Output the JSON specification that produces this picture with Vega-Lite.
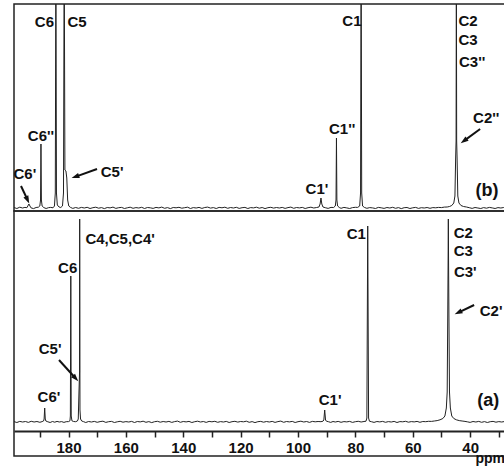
{
  "$schema": "https://vega.github.io/schema/vega-lite/v6.json",
  "padding": {"left": 12, "top": 3, "right": 0, "bottom": 0},
  "spacing": 0,
  "bounds": "flush",
  "config": {
    "view": {"stroke": "#222", "strokeWidth": 1.5},
    "text": {"font": "Liberation Sans", "fontWeight": "bold", "fontSize": 15, "color": "#111", "baseline": "middle", "align": "center"}
  },
  "datasets": {
    "specB": [
      {"p":199,"i":0.5},{"p":198,"i":-0.5},{"p":197,"i":0.8},{"p":196,"i":0},{"p":195.2,"i":0.6},{"p":194.5,"i":0.3},{"p":193.8,"i":4},{"p":193.1,"i":0.2},{"p":192.2,"i":-0.6},{"p":191.3,"i":0.5},{"p":190.5,"i":0.8},{"p":190.0,"i":2},{"p":189.75,"i":8},{"p":189.6,"i":64},{"p":189.45,"i":8},{"p":189.2,"i":2},{"p":188.6,"i":0.4},{"p":187.8,"i":-0.5},{"p":187,"i":0.3},{"p":186.2,"i":0.6},{"p":185.4,"i":0.2},{"p":184.9,"i":2},{"p":184.6,"i":15},{"p":184.4,"i":260},{"p":184.2,"i":15},{"p":183.9,"i":3},{"p":183.3,"i":1},{"p":182.7,"i":0.5},{"p":182.1,"i":2},{"p":181.75,"i":15},{"p":181.5,"i":260},{"p":181.25,"i":38},{"p":180.9,"i":37},{"p":180.6,"i":30},{"p":180.3,"i":8},{"p":179.9,"i":2},{"p":179.3,"i":0.6},{"p":178.5,"i":-0.4},{"p":177.5,"i":0.5},{"p":176.5,"i":-0.3},{"p":175.5,"i":0.6},{"p":174.5,"i":0},{"p":173.5,"i":0.7},{"p":172.5,"i":-0.5},{"p":171.5,"i":0.3},{"p":170.5,"i":0.8},{"p":169.5,"i":-0.2},{"p":168.5,"i":0.4},{"p":167.5,"i":-0.6},{"p":166.5,"i":0.5},{"p":165.5,"i":0.1},{"p":164.5,"i":0.9},{"p":163.5,"i":-0.4},{"p":162.5,"i":0.3},{"p":161.5,"i":0.6},{"p":160.5,"i":-0.5},{"p":159.5,"i":0.2},{"p":158.5,"i":0.8},{"p":157.5,"i":-0.3},{"p":156.5,"i":0.4},{"p":155.5,"i":0},{"p":154.5,"i":0.7},{"p":153.5,"i":-0.5},{"p":152.5,"i":0.5},{"p":151.5,"i":0.2},{"p":150.5,"i":-0.4},{"p":149.5,"i":0.6},{"p":148.5,"i":0.1},{"p":147.5,"i":0.9},{"p":146.5,"i":-0.3},{"p":145.5,"i":0.4},{"p":144.5,"i":-0.6},{"p":143.5,"i":0.5},{"p":142.5,"i":0.2},{"p":141.5,"i":0.7},{"p":140.5,"i":-0.2},{"p":139.5,"i":0.3},{"p":138.5,"i":0.8},{"p":137.5,"i":-0.5},{"p":136.5,"i":0.4},{"p":135.5,"i":0},{"p":134.5,"i":0.6},{"p":133.5,"i":-0.4},{"p":132.5,"i":0.5},{"p":131.5,"i":0.9},{"p":130.5,"i":-0.1},{"p":129.5,"i":0.4},{"p":128.5,"i":-0.5},{"p":127.5,"i":0.6},{"p":126.5,"i":0.2},{"p":125.5,"i":0.8},{"p":124.5,"i":-0.3},{"p":123.5,"i":0.5},{"p":122.5,"i":0},{"p":121.5,"i":0.7},{"p":120.5,"i":-0.4},{"p":119.5,"i":0.3},{"p":118.5,"i":0.6},{"p":117.5,"i":-0.5},{"p":116.5,"i":0.4},{"p":115.5,"i":0.1},{"p":114.5,"i":0.8},{"p":113.5,"i":-0.2},{"p":112.5,"i":0.5},{"p":111.5,"i":-0.6},{"p":110.5,"i":0.3},{"p":109.5,"i":0.7},{"p":108.5,"i":-0.1},{"p":107.5,"i":0.5},{"p":106.5,"i":0},{"p":105.5,"i":0.6},{"p":104.5,"i":-0.4},{"p":103.5,"i":0.4},{"p":102.5,"i":0.9},{"p":101.5,"i":-0.3},{"p":100.5,"i":0.5},{"p":99.5,"i":0.1},{"p":98.5,"i":0.6},{"p":97.5,"i":-0.5},{"p":96.5,"i":0.3},{"p":95.5,"i":0.8},{"p":94.5,"i":0},{"p":93.5,"i":0.5},{"p":92.7,"i":1},{"p":92.3,"i":4},{"p":92.0,"i":10},{"p":91.7,"i":4},{"p":91.3,"i":1},{"p":90.5,"i":0.3},{"p":89.5,"i":-0.4},{"p":88.5,"i":0.6},{"p":87.6,"i":0.5},{"p":87.0,"i":2},{"p":86.75,"i":8},{"p":86.6,"i":70},{"p":86.45,"i":8},{"p":86.2,"i":2},{"p":85.6,"i":0.5},{"p":85,"i":-0.3},{"p":84,"i":0.6},{"p":83,"i":0.1},{"p":82,"i":-0.5},{"p":81,"i":0.4},{"p":80,"i":0.7},{"p":79.2,"i":0.6},{"p":78.5,"i":2},{"p":78.2,"i":15},{"p":78.0,"i":260},{"p":77.8,"i":15},{"p":77.5,"i":2},{"p":76.8,"i":0.5},{"p":76,"i":-0.3},{"p":75,"i":0.4},{"p":74,"i":0.1},{"p":73,"i":-0.5},{"p":72,"i":0.6},{"p":71,"i":0.2},{"p":70,"i":-0.4},{"p":69,"i":0.5},{"p":68,"i":0},{"p":67,"i":0.7},{"p":66,"i":-0.3},{"p":65,"i":0.4},{"p":64,"i":-0.6},{"p":63,"i":0.3},{"p":62,"i":0.5},{"p":61,"i":-0.5},{"p":60,"i":0.2},{"p":59,"i":0.6},{"p":58,"i":-0.4},{"p":57,"i":0.3},{"p":56,"i":0},{"p":55,"i":0.5},{"p":54,"i":-0.3},{"p":53,"i":0.4},{"p":52,"i":0.2},{"p":51,"i":0.6},{"p":50,"i":0.4},{"p":49,"i":0.9},{"p":48,"i":1},{"p":47.2,"i":1.5},{"p":46.4,"i":2.5},{"p":45.7,"i":5},{"p":45.3,"i":12},{"p":45.05,"i":50},{"p":44.9,"i":67},{"p":44.8,"i":260},{"p":44.7,"i":67},{"p":44.55,"i":50},{"p":44.3,"i":12},{"p":43.9,"i":5},{"p":43.2,"i":2.5},{"p":42.3,"i":1.5},{"p":41.3,"i":1},{"p":40.3,"i":0.3},{"p":39.3,"i":-0.4},{"p":38.3,"i":0.5},{"p":37.3,"i":0},{"p":36.3,"i":-0.5},{"p":35.3,"i":0.4},{"p":34.3,"i":-0.2},{"p":33.3,"i":0.6},{"p":32.3,"i":0.1},{"p":31.3,"i":-0.5},{"p":30.3,"i":0.4},{"p":29.3,"i":0},{"p":28.3,"i":0.5},{"p":27.5,"i":0.2}
    ],
    "specA": [
      {"p":199,"i":0.4},{"p":198,"i":-0.5},{"p":197,"i":0.6},{"p":196,"i":0},{"p":195,"i":0.5},{"p":194,"i":-0.4},{"p":193,"i":0.7},{"p":192,"i":0},{"p":191,"i":0.5},{"p":190,"i":-0.3},{"p":189.2,"i":0.4},{"p":188.7,"i":1},{"p":188.5,"i":3},{"p":188.3,"i":14},{"p":188.1,"i":3},{"p":187.9,"i":1},{"p":187.2,"i":0.2},{"p":186.4,"i":-0.5},{"p":185.6,"i":0.5},{"p":184.8,"i":-0.2},{"p":184,"i":0.6},{"p":183.2,"i":0},{"p":182.4,"i":0.4},{"p":181.6,"i":-0.4},{"p":180.8,"i":0.3},{"p":180.0,"i":0.4},{"p":179.5,"i":1.2},{"p":179.35,"i":6},{"p":179.2,"i":146},{"p":179.05,"i":6},{"p":178.8,"i":1.2},{"p":178.2,"i":0.5},{"p":177.5,"i":0.3},{"p":176.9,"i":1},{"p":176.6,"i":3},{"p":176.35,"i":30},{"p":176.2,"i":45},{"p":176.15,"i":50},{"p":176.1,"i":203},{"p":176.0,"i":12},{"p":175.8,"i":3},{"p":175.4,"i":1},{"p":174.8,"i":0.4},{"p":174,"i":-0.5},{"p":173,"i":0.5},{"p":172,"i":0},{"p":171,"i":0.6},{"p":170,"i":-0.3},{"p":169,"i":0.4},{"p":168,"i":0.8},{"p":167,"i":-0.4},{"p":166,"i":0.3},{"p":165,"i":0.6},{"p":164,"i":-0.5},{"p":163,"i":0.2},{"p":162,"i":0.7},{"p":161,"i":-0.2},{"p":160,"i":0.4},{"p":159,"i":0},{"p":158,"i":0.6},{"p":157,"i":-0.5},{"p":156,"i":0.5},{"p":155,"i":0.1},{"p":154,"i":0.8},{"p":153,"i":-0.3},{"p":152,"i":0.4},{"p":151,"i":-0.6},{"p":150,"i":0.3},{"p":149,"i":0.7},{"p":148,"i":-0.2},{"p":147,"i":0.5},{"p":146,"i":0},{"p":145,"i":0.6},{"p":144,"i":-0.4},{"p":143,"i":0.4},{"p":142,"i":0.9},{"p":141,"i":-0.3},{"p":140,"i":0.5},{"p":139,"i":0.1},{"p":138,"i":0.6},{"p":137,"i":-0.5},{"p":136,"i":0.3},{"p":135,"i":0.8},{"p":134,"i":0},{"p":133,"i":0.5},{"p":132,"i":-0.4},{"p":131,"i":0.6},{"p":130,"i":0.2},{"p":129,"i":0.7},{"p":128,"i":-0.3},{"p":127,"i":0.4},{"p":126,"i":0},{"p":125,"i":0.6},{"p":124,"i":-0.5},{"p":123,"i":0.3},{"p":122,"i":0.7},{"p":121,"i":-0.1},{"p":120,"i":0.5},{"p":119,"i":0.2},{"p":118,"i":0.8},{"p":117,"i":-0.3},{"p":116,"i":0.4},{"p":115,"i":-0.6},{"p":114,"i":0.3},{"p":113,"i":0.6},{"p":112,"i":-0.2},{"p":111,"i":0.5},{"p":110,"i":0},{"p":109,"i":0.6},{"p":108,"i":-0.4},{"p":107,"i":0.4},{"p":106,"i":0.9},{"p":105,"i":-0.3},{"p":104,"i":0.5},{"p":103,"i":0.1},{"p":102,"i":0.6},{"p":101,"i":-0.5},{"p":100,"i":0.3},{"p":99,"i":0.8},{"p":98,"i":0},{"p":97,"i":0.5},{"p":96,"i":-0.4},{"p":95,"i":0.6},{"p":94,"i":0.2},{"p":93,"i":0.5},{"p":92,"i":0.3},{"p":91.3,"i":0.8},{"p":91.0,"i":2},{"p":90.7,"i":12},{"p":90.4,"i":2},{"p":90.1,"i":0.8},{"p":89.4,"i":0.3},{"p":88.6,"i":-0.4},{"p":87.8,"i":0.5},{"p":87,"i":0},{"p":86,"i":0.6},{"p":85,"i":-0.3},{"p":84,"i":0.4},{"p":83,"i":0.1},{"p":82,"i":0.6},{"p":81,"i":-0.4},{"p":80,"i":0.3},{"p":79,"i":0.7},{"p":78,"i":0},{"p":77,"i":0.5},{"p":76.3,"i":0.8},{"p":76.0,"i":4},{"p":75.7,"i":196},{"p":75.4,"i":4},{"p":75.1,"i":0.8},{"p":74.4,"i":0.3},{"p":73.5,"i":-0.4},{"p":72.5,"i":0.5},{"p":71.5,"i":0.1},{"p":70.5,"i":0.6},{"p":69.5,"i":-0.3},{"p":68.5,"i":0.4},{"p":67.5,"i":0},{"p":66.5,"i":0.6},{"p":65.5,"i":-0.5},{"p":64.5,"i":0.4},{"p":63.5,"i":0.2},{"p":62.5,"i":0.7},{"p":61.5,"i":-0.2},{"p":60.5,"i":0.4},{"p":59.5,"i":0.1},{"p":58.5,"i":0.6},{"p":57.5,"i":-0.3},{"p":56.5,"i":0.5},{"p":55.5,"i":0.3},{"p":54.5,"i":0.7},{"p":53.5,"i":0.6},{"p":52.5,"i":1},{"p":51.5,"i":1.4},{"p":50.5,"i":2.2},{"p":49.5,"i":3.5},{"p":48.8,"i":6},{"p":48.3,"i":14},{"p":48.0,"i":30},{"p":47.8,"i":108},{"p":47.7,"i":153},{"p":47.6,"i":203},{"p":47.5,"i":153},{"p":47.4,"i":108},{"p":47.2,"i":30},{"p":46.9,"i":14},{"p":46.4,"i":6},{"p":45.7,"i":3.5},{"p":44.8,"i":2.2},{"p":43.8,"i":1.4},{"p":42.8,"i":1},{"p":41.8,"i":0.6},{"p":41,"i":0.2},{"p":40,"i":-0.4},{"p":39,"i":0.5},{"p":38,"i":0},{"p":37,"i":0.6},{"p":36,"i":-0.3},{"p":35,"i":0.4},{"p":34,"i":-0.5},{"p":33,"i":0.3},{"p":32,"i":0.6},{"p":31,"i":-0.2},{"p":30,"i":0.4},{"p":29,"i":0},{"p":28,"i":0.5},{"p":27.5,"i":0.2}
    ],
    "labB": [
      {"p":188.4,"i":186,"t":"C6"},{"p":177.0,"i":186,"t":"C5"},{"p":189.6,"i":72,"t":"C6''"},{"p":195.2,"i":34,"t":"C6'"},{"p":164.8,"i":36,"t":"C5'"},{"p":93.4,"i":19,"t":"C1'"},{"p":84.6,"i":79,"t":"C1''"},{"p":81.2,"i":187,"t":"C1"},{"p":40.7,"i":187,"t":"C2"},{"p":40.7,"i":168,"t":"C3"},{"p":39.3,"i":146,"t":"C3''"},{"p":34.4,"i":90,"t":"C2''"}
    ],
    "labA": [
      {"p":162.0,"i":183,"t":"C4,C5,C4'"},{"p":180.3,"i":154,"t":"C6"},{"p":186.4,"i":73,"t":"C5'"},{"p":186.8,"i":25,"t":"C6'"},{"p":88.8,"i":22,"t":"C1'"},{"p":79.7,"i":188,"t":"C1"},{"p":42.4,"i":189,"t":"C2"},{"p":42.4,"i":171,"t":"C3"},{"p":41.7,"i":150,"t":"C3'"},{"p":32.7,"i":111,"t":"C2'"}
    ],
    "arrB": [
      {"p":196.56,"i":22,"p2":194.36,"i2":8.6,"a":154.8},
      {"p":170.06,"i":39,"p2":177.45,"i2":31.4,"a":250.2},
      {"p":36.52,"i":79,"p2":42.03,"i2":67.4,"a":233.6}
    ],
    "arrA": [
      {"p":183.31,"i":62,"p2":177.63,"i2":44,"a":137.9},
      {"p":38.61,"i":117,"p2":43.98,"i2":109.7,"a":244.6}
    ],
    "tagB": [{"p":34.1,"i":17,"t":"(b)"}],
    "tagA": [{"p":33.7,"i":21,"t":"(a)"}]
  },
  "vconcat": [
    {
      "width": 492,
      "height": 207,
      "layer": [
        {
          "data": {"name": "specB"},
          "mark": {"type": "line", "color": "#222", "strokeWidth": 1, "clip": true},
          "encoding": {
            "x": {"field": "p", "type": "quantitative", "scale": {"domain": [27.5, 199], "reverse": true, "nice": false, "zero": false}, "axis": null},
            "y": {"field": "i", "type": "quantitative", "scale": {"domain": [-3, 204], "nice": false, "zero": false}, "axis": null}
          }
        },
        {
          "data": {"name": "arrB"},
          "mark": {"type": "rule", "color": "#111", "strokeWidth": 2},
          "encoding": {
            "x": {"field": "p", "type": "quantitative", "axis": null},
            "y": {"field": "i", "type": "quantitative", "axis": null},
            "x2": {"field": "p2"},
            "y2": {"field": "i2"}
          }
        },
        {
          "data": {"name": "arrB"},
          "mark": {"type": "point", "shape": "M0,-1L0.6,0.75L-0.6,0.75Z", "filled": true, "color": "#111", "size": 80, "opacity": 1},
          "encoding": {
            "x": {"field": "p2", "type": "quantitative", "axis": null},
            "y": {"field": "i2", "type": "quantitative", "axis": null},
            "angle": {"field": "a", "type": "quantitative", "scale": null}
          }
        },
        {
          "data": {"name": "labB"},
          "mark": {"type": "text"},
          "encoding": {
            "x": {"field": "p", "type": "quantitative", "axis": null},
            "y": {"field": "i", "type": "quantitative", "axis": null},
            "text": {"field": "t"}
          }
        },
        {
          "data": {"name": "tagB"},
          "mark": {"type": "text", "fontSize": 18},
          "encoding": {
            "x": {"field": "p", "type": "quantitative", "axis": null},
            "y": {"field": "i", "type": "quantitative", "axis": null},
            "text": {"field": "t"}
          }
        }
      ]
    },
    {
      "width": 492,
      "height": 245,
      "resolve": {"scale": {"x": "independent"}, "axis": {"x": "independent"}},
      "layer": [
        {
          "data": {"name": "specA"},
          "mark": {"type": "line", "color": "#222", "strokeWidth": 1, "clip": true},
          "encoding": {
            "x": {
              "field": "p", "type": "quantitative",
              "scale": {"domain": [27.5, 199], "reverse": true, "nice": false, "zero": false},
              "axis": {
                "orient": "bottom",
                "values": [190, 180, 170, 160, 150, 140, 130, 120, 110, 100, 90, 80, 70, 60, 50, 40, 30],
                "labels": false,
                "title": null,
                "offset": -25,
                "grid": false,
                "domainColor": "#222", "domainWidth": 2,
                "tickColor": "#222", "tickWidth": 1.5, "tickSize": 6
              }
            },
            "y": {"field": "i", "type": "quantitative", "scale": {"domain": [-34, 211], "nice": false, "zero": false}, "axis": null}
          }
        },
        {
          "data": {"name": "arrA"},
          "mark": {"type": "rule", "color": "#111", "strokeWidth": 2},
          "encoding": {
            "x": {"field": "p", "type": "quantitative", "scale": {"domain": [27.5, 199], "reverse": true, "nice": false, "zero": false}, "axis": null},
            "y": {"field": "i", "type": "quantitative", "axis": null},
            "x2": {"field": "p2"},
            "y2": {"field": "i2"}
          }
        },
        {
          "data": {"name": "arrA"},
          "mark": {"type": "point", "shape": "M0,-1L0.6,0.75L-0.6,0.75Z", "filled": true, "color": "#111", "size": 80, "opacity": 1},
          "encoding": {
            "x": {"field": "p2", "type": "quantitative", "scale": {"domain": [27.5, 199], "reverse": true, "nice": false, "zero": false}, "axis": null},
            "y": {"field": "i2", "type": "quantitative", "axis": null},
            "angle": {"field": "a", "type": "quantitative", "scale": null}
          }
        },
        {
          "data": {"name": "labA"},
          "mark": {"type": "text"},
          "encoding": {
            "x": {"field": "p", "type": "quantitative", "scale": {"domain": [27.5, 199], "reverse": true, "nice": false, "zero": false}, "axis": null},
            "y": {"field": "i", "type": "quantitative", "axis": null},
            "text": {"field": "t"}
          }
        },
        {
          "data": {"name": "tagA"},
          "mark": {"type": "text", "fontSize": 18},
          "encoding": {
            "x": {
              "field": "p", "type": "quantitative",
              "scale": {"domain": [27.5, 199], "reverse": true, "nice": false, "zero": false},
              "axis": {
                "orient": "bottom",
                "values": [180, 160, 140, 120, 100, 80, 60, 40],
                "offset": -25,
                "grid": false,
                "domain": false,
                "ticks": false,
                "labelPadding": 9,
                "labelFont": "Liberation Sans", "labelFontWeight": "bold", "labelFontSize": 15, "labelColor": "#111",
                "labelFlush": false, "labelOverlap": false,
                "title": "ppm",
                "titleFont": "Liberation Sans", "titleFontWeight": "bold", "titleFontSize": 14, "titleColor": "#111",
                "titleX": 461, "titleY": 31, "titleAlign": "left", "titleBaseline": "alphabetic"
              }
            },
            "y": {"field": "i", "type": "quantitative", "axis": null},
            "text": {"field": "t"}
          }
        }
      ]
    }
  ]
}
